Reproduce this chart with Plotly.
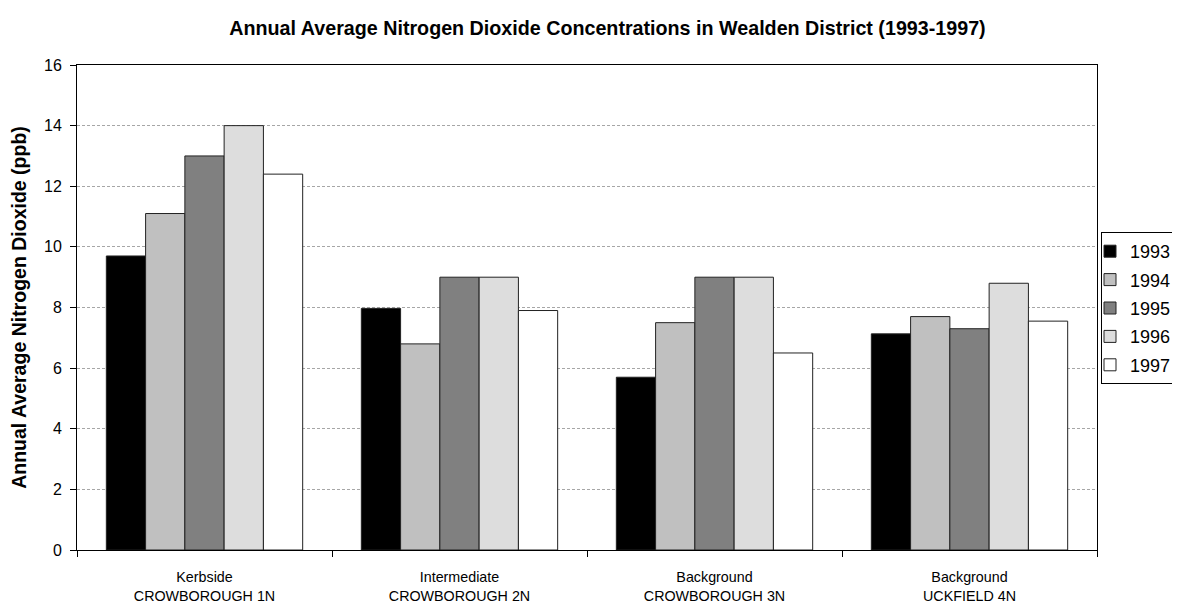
import plotly.graph_objects as go

categories = ["Kerbside<br>CROWBOROUGH 1N", "Intermediate<br>CROWBOROUGH 2N",
              "Background<br>CROWBOROUGH 3N", "Background<br>UCKFIELD 4N"]
years = ["1993", "1994", "1995", "1996", "1997"]
v1993 = [9.7, 7.97, 5.7, 7.13]
v1994 = [11.1, 6.8, 7.5, 7.7]
v1995 = [13.0, 9.0, 9.0, 7.3]
v1996 = [14.0, 9.0, 9.0, 8.8]
v1997 = [12.4, 7.9, 6.5, 7.55]
series = [v1993, v1994, v1995, v1996, v1997]
colors = ["#000000", "#c0c0c0", "#808080", "#dddddd", "#ffffff"]

FONT = "Liberation Sans, Arial, sans-serif"

fig = go.Figure()
for y, vals, c in zip(years, series, colors):
    fig.add_trace(go.Bar(
        x=categories, y=vals, name=y, legendgroup=y,
        marker=dict(color=c, line=dict(color="#222222", width=1)),
    ))

fig.update_layout(
    width=1172, height=600,
    paper_bgcolor="white", plot_bgcolor="white",
    font=dict(family=FONT, color="#000000"),
    margin=dict(l=69, r=83, t=57, b=57.5),
    barmode="group", bargap=0.23, bargroupgap=0,
    title=dict(
        text="<b>Annual Average Nitrogen Dioxide Concentrations in Wealden District (1993-1997)</b>",
        font=dict(size=19.7, family=FONT, color="#000"),
        x=0.5115, xref="container", xanchor="center",
        y=0.9667, yref="container", yanchor="middle",
    ),
    legend=dict(
        x=(1101 - 8) / 1172, xref="container", xanchor="left",
        y=1 - (232 - 8) / 600, yref="container", yanchor="top",
        bordercolor="#000", borderwidth=1, bgcolor="white",
        font=dict(size=18, family=FONT),
        indentation=-12, traceorder="grouped", tracegroupgap=2,
    ),
    showlegend=True,
)
fig.update_xaxes(
    showline=True, linecolor="#000", linewidth=1, mirror=True,
    ticks="outside", ticklen=6, tickcolor="#000", tickson="boundaries",
    tickfont=dict(size=14.3, family=FONT), showgrid=False,
    ticklabelstandoff=14, automargin=False,
)
fig.update_yaxes(
    range=[0, 16], dtick=2, tick0=0,
    showline=True, linecolor="#000", linewidth=1, mirror=True,
    ticks="outside", ticklen=6, tickcolor="#000",
    tickfont=dict(size=16, family=FONT), ticklabelstandoff=5,
    showgrid=True, gridcolor="#a6a6a6", griddash="3px,2px", gridwidth=1,
    zeroline=False,
    title=dict(text="<b>Annual Average Nitrogen Dioxide (ppb)</b>",
               font=dict(size=19.5, family=FONT), standoff=12),
    automargin=False,
)
fig.write_html("out.html")
